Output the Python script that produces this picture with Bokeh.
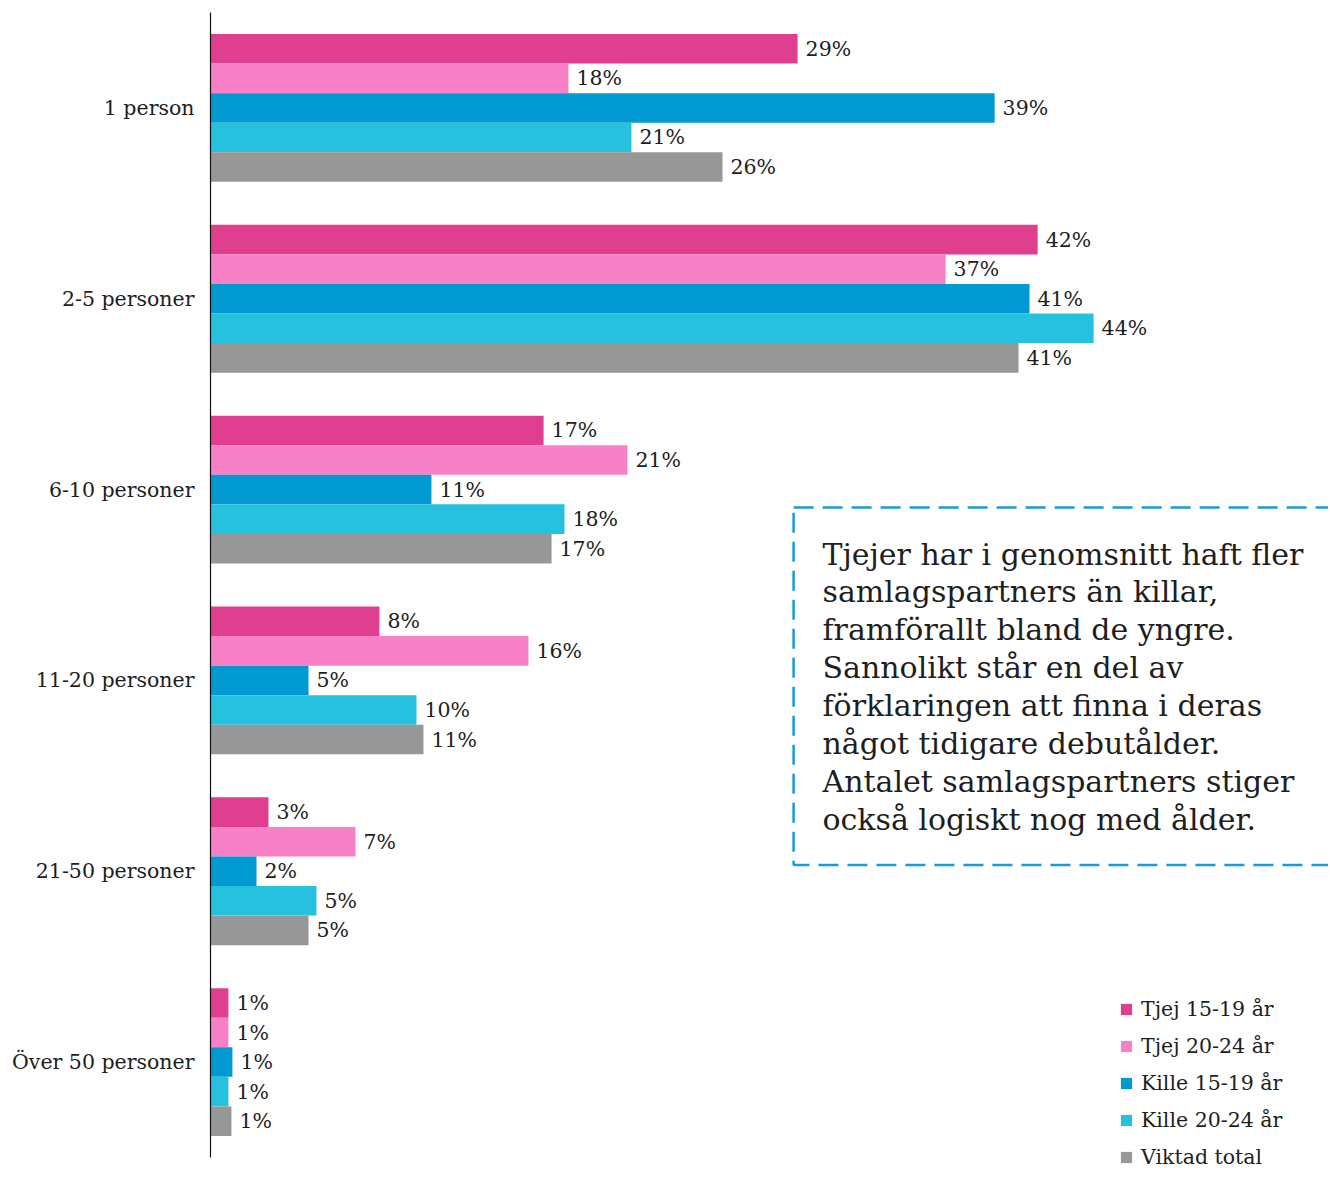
from bokeh.plotting import figure
from bokeh.models import FactorRange, Range1d, ColumnDataSource, Legend, LegendItem
from bokeh.transform import dodge
from bokeh.core.properties import value
from bokeh.embed import file_html
from bokeh.resources import INLINE

categories = ["1 person", "2-5 personer", "6-10 personer", "11-20 personer",
              "21-50 personer", "Över 50 personer"]
series_names = ["Tjej 15-19 år", "Tjej 20-24 år", "Kille 15-19 år", "Kille 20-24 år", "Viktad total"]

tjej_15_19 = [29.47, 41.52, 16.72, 8.48, 2.91, 0.90]
tjej_20_24 = [17.97, 36.90, 20.93, 15.96, 7.28, 0.90]
kille_15_19 = [39.36, 41.11, 11.09, 4.92, 2.31, 1.10]
kille_20_24 = [21.13, 44.33, 17.77, 10.34, 5.32, 0.90]
viktad_total = [25.70, 40.56, 17.12, 10.69, 4.92, 1.05]

colors = ["#e03e8f", "#f780c6", "#0099d1", "#26c1df", "#979797"]

note = ("Tjejer har i genomsnitt haft fler\n"
        "samlagspartners än killar,\n"
        "framförallt bland de yngre.\n"
        "Sannolikt står en del av\n"
        "förklaringen att finna i deras\n"
        "något tidigare debutålder.\n"
        "Antalet samlagspartners stiger\n"
        "också logiskt nog med ålder.")

FONT = "DejaVu Serif"
TEXT_COLOR = "#1e1e1e"
PAD = 12 / (1145 / 6)

p = figure(width=1328, height=1175, output_backend="svg", toolbar_location=None,
           y_range=FactorRange(factors=list(reversed(categories)),
                               range_padding=PAD, range_padding_units="absolute"),
           x_range=Range1d(0, 56.12), x_axis_location=None,
           min_border_left=210, min_border_right=0, min_border_top=0, min_border_bottom=6)
p.outline_line_color = None
p.xgrid.visible = False
p.ygrid.visible = False
p.background_fill_color = "white"
p.border_fill_color = "white"

ax = p.yaxis[0]
ax.bounds = (0, len(categories))
ax.major_tick_line_color = None
ax.minor_tick_line_color = None
ax.axis_line_color = "#111111"
ax.axis_line_width = 1.2
ax.major_label_text_font = FONT
ax.major_label_text_font_size = "20.5px"
ax.major_label_text_color = TEXT_COLOR
ax.major_label_standoff = 10

bar_h = 0.155
all_series = [tjej_15_19, tjej_20_24, kille_15_19, kille_20_24, viktad_total]
renderers = []
for i, (name, vals, col) in enumerate(zip(series_names, all_series, colors)):
    src = ColumnDataSource(dict(cat=categories, val=vals,
                                lab=[f"{round(v)}%" for v in vals]))
    off = (2 - i) * bar_h
    r = p.hbar(y=dodge("cat", off, range=p.y_range), left=0, right="val", height=bar_h,
               source=src, fill_color=col, line_color=None)
    renderers.append(r)
    p.text(x="val", y=dodge("cat", off, range=p.y_range), text="lab", source=src,
           x_offset=8, text_baseline="middle", text_align="left",
           text_font=value(FONT), text_font_size="20.5px", text_color=TEXT_COLOR)

# dashed callout box (right side runs off the chart)
p.quad(left=[29.27], right=[60], top=[3.406], bottom=[1.533], fill_color=None,
       line_color="#1a9ad6", line_width=2.5, line_dash="20 9")
p.text(x=[30.72], y=[3.254], text=[note], text_baseline="top", text_align="left",
       text_font=value(FONT), text_font_size="30px", text_line_height=1.085,
       text_color=TEXT_COLOR)

legend = Legend(items=[LegendItem(label=n, renderers=[r]) for n, r in zip(series_names, renderers)],
                location=(909, 0), orientation="vertical",
                glyph_width=14, glyph_height=14, label_height=24, spacing=13,
                label_standoff=8, padding=0, margin=0,
                border_line_color=None, background_fill_alpha=0,
                label_text_font=FONT, label_text_font_size="20.5px",
                label_text_color=TEXT_COLOR)
p.add_layout(legend)

open("out.html", "w").write(file_html(p, INLINE))
